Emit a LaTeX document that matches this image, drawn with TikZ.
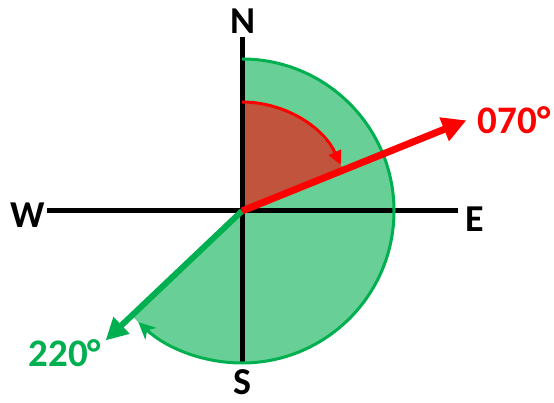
\documentclass[tikz,border=0pt]{standalone}
\usepackage{fontspec}
\setmainfont{Carlito}
\usetikzlibrary{arrows.meta,calc}

\definecolor{bearred}{RGB}{255,0,0}
\definecolor{beargreen}{RGB}{0,176,80}
\definecolor{greenfill}{RGB}{104,208,150}
\definecolor{redfill}{RGB}{192,84,60}

\begin{document}
\begin{tikzpicture}[
    x=1pt, y=1pt,
    axis/.style={line width=5pt, black},
    dirlbl/.style={font=\fontsize{38}{38}\selectfont\bfseries, inner sep=0pt},
    bearlbl/.style={font=\fontsize{39}{39}\selectfont\bfseries, inner sep=0pt},
    redarr/.style={-{Triangle[length=24pt, width=24pt]}, line width=7pt, bearred},
    greenarr/.style={-{Triangle[length=22pt, width=22pt]}, line width=6pt, beargreen},
    sweep/.style={line width=3pt}
]
\useasboundingbox (0,0) rectangle (554,403);

\coordinate (O) at (242,192);
\coordinate (ntop) at (242,366);
\coordinate (sbot) at (242,40);
\coordinate (wend) at (47,192);
\coordinate (eend) at (458,192);

% sectors
\fill[greenfill] (O) -- ++(90:152) arc[start angle=90, end angle=-136, radius=152] -- cycle;
\fill[redfill] (O) -- ++(90:109) arc[start angle=90, end angle=22, radius=109] -- cycle;

% compass axes
\draw[axis] (ntop) -- (sbot);
\draw[axis] (wend) -- (eend);

\node[dirlbl] (N) at (243,382) {N};
\node[dirlbl] (S) at (242,21) {S};
\node[dirlbl] (W) at (28,188) {W};
\node[dirlbl] (E) at (475,184) {E};

% swept angles
\draw[sweep, beargreen, -{Stealth[length=17pt, width=16pt, inset=5pt]}]
    ($(O)+(90:152)$) arc[start angle=90, end angle=-133, radius=152];
\draw[sweep, bearred, -{Triangle[length=14pt, width=13pt]}]
    ($(O)+(90:109)$) arc[start angle=90, end angle=25, radius=109];

% bearing lines
\coordinate (tip070) at ($(O)+(22:242)$);
\coordinate (tip220) at ($(O)+(-136.5:188)$);
\draw[greenarr] (O) -- (tip220);
\draw[redarr] (O) -- (tip070);

\node[bearlbl, text=bearred] (b070) at (514,283) {070°};
\node[bearlbl, text=beargreen] (b220) at (65,50) {220°};
\end{tikzpicture}
\end{document}
